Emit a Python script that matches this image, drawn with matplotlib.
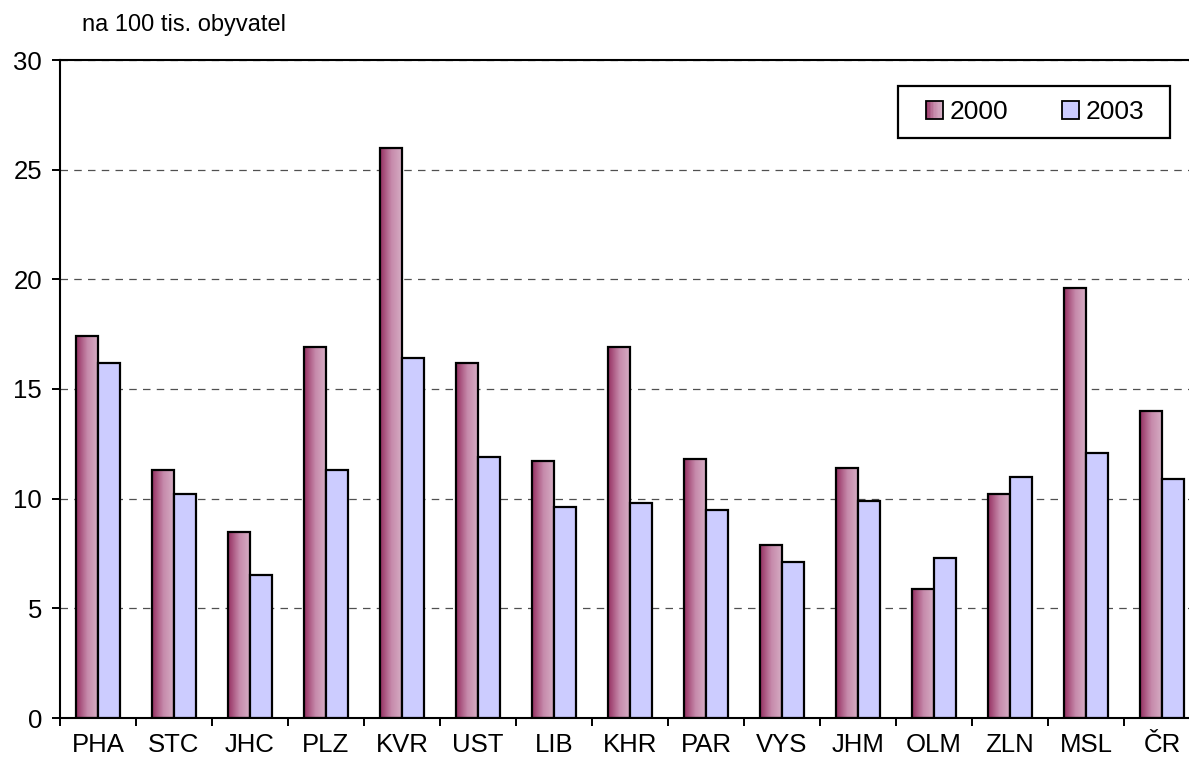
import matplotlib.pyplot as plt
import numpy as np
from matplotlib.colors import LinearSegmentedColormap
from matplotlib.patches import Rectangle
from matplotlib.legend_handler import HandlerBase

plt.rcParams['font.family'] = ['Liberation Sans', 'DejaVu Sans']

regions = ['PHA', 'STC', 'JHC', 'PLZ', 'KVR', 'UST', 'LIB', 'KHR',
           'PAR', 'VYS', 'JHM', 'OLM', 'ZLN', 'MSL', 'ČR']
v2000 = [17.4, 11.3, 8.5, 16.9, 26.0, 16.2, 11.7, 16.9,
         11.8, 7.9, 11.4, 5.9, 10.2, 19.6, 14.0]
v2003 = [16.2, 10.2, 6.5, 11.3, 16.4, 11.9, 9.6, 9.8,
         9.5, 7.1, 9.9, 7.3, 11.0, 12.1, 10.9]

grad = LinearSegmentedColormap.from_list('g', ['#963062', '#c68aab', '#d7b0c6'])
c2003 = '#ccccff'

fig = plt.figure(figsize=(11.89, 7.66), dpi=100)
ax = fig.add_axes([60/1189, 48/766, 1140/1189, 658/766])

x = np.arange(len(regions))
w = 0.29

# gradient bars for 2000
gimg = np.linspace(0, 1, 64).reshape(1, -1)
bars0 = ax.bar(x - w/2, v2000, w, facecolor='none', edgecolor='black', linewidth=1.6, zorder=3)
for b in bars0:
    x0, y0 = b.get_x(), b.get_y()
    ax.imshow(gimg, cmap=grad, aspect='auto', zorder=2.5,
              extent=[x0, x0 + b.get_width(), y0, y0 + b.get_height()])
bars1 = ax.bar(x + w/2, v2003, w, color=c2003, edgecolor='black', linewidth=1.6, zorder=3)

ax.set_xlim(-0.5, len(regions) - 0.5)
ax.set_ylim(0, 30)
ax.set_yticks(range(0, 31, 5))
ax.set_xticks(x)
ax.set_xticklabels(regions)
ax.set_xticks(np.arange(-0.5, len(regions), 1), minor=True)
ax.tick_params(axis='x', which='major', length=0, pad=11, labelsize=18.5)
ax.tick_params(axis='x', which='minor', length=6, width=1.4, direction='out')
ax.tick_params(axis='y', length=6, width=1.4, direction='out', labelsize=18.5, pad=7)

ax.yaxis.grid(True, color='#505050', linestyle=(0, (6, 5)), linewidth=0.9, zorder=0)
ax.set_axisbelow(True)
for s in ['left', 'bottom', 'top']:
    ax.spines[s].set_linewidth(1.5)
ax.spines['right'].set_visible(False)


class GradHandler(HandlerBase):
    def create_artists(self, legend, orig, xdescent, ydescent, width, height, fontsize, trans):
        n = 12
        arts = []
        for i in range(n):
            arts.append(Rectangle((i * width / n, 0), width / n, height,
                                  facecolor=grad(i / (n - 1)), edgecolor='none', transform=trans))
        arts.append(Rectangle((0, 0), width, height, facecolor='none',
                              edgecolor='black', linewidth=1.3, transform=trans))
        return arts


h0 = Rectangle((0, 0), 1, 1)
h1 = Rectangle((0, 0), 1, 1, facecolor=c2003, edgecolor='black', linewidth=1.3)
leg = ax.legend([h0, h1], ['2000', '2003'], handler_map={h0: GradHandler()},
                ncol=2, loc='center', bbox_to_anchor=(1035/1189, 1 - 112/766),
                bbox_transform=fig.transFigure, borderaxespad=0, fontsize=19,
                handlelength=0.65, handleheight=0.65, handletextpad=0.25,
                columnspacing=2.05, frameon=False, borderpad=0)
leg.set_zorder(6)

# legend box
ax.add_patch(Rectangle((898/1189, 1 - 138/766), 272/1189, 52/766,
                       transform=fig.transFigure, facecolor='white', clip_on=False,
                       edgecolor='black', linewidth=1.6, zorder=5))

fig.text(82/1189, 1 - 25/766, 'na 100 tis. obyvatel', fontsize=17, va='center', ha='left')

fig.savefig('out.png', dpi=100)
